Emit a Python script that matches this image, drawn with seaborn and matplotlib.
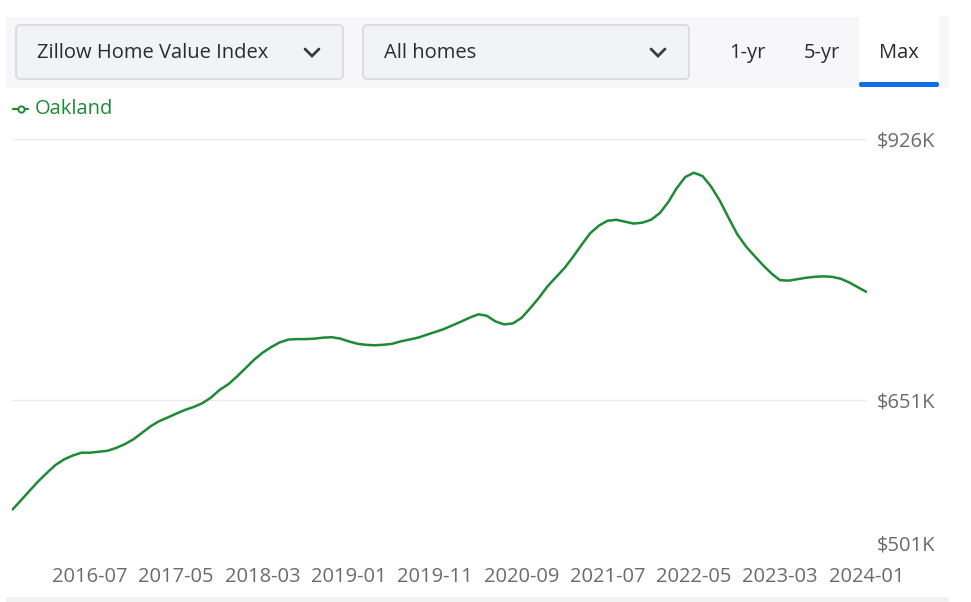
"""
plot.py
Zillow-style home value chart for Oakland, redrawn with seaborn.
"""

import pandas as pd
import seaborn as sns
import matplotlib.pyplot as plt
from matplotlib.patches import FancyBboxPatch, Rectangle

# Monthly ZHVI values (in $K), 2015-10 .. 2024-01
START_MONTH = "2015-10-01"
zhvi_k = [
    536, 546, 556, 566, 575, 583, 589, 593, 596,
    596, 597, 598, 601, 605, 610, 617, 624, 629, 633,
    637, 641, 644, 648, 654, 662, 668, 676, 685, 694,
    701, 707, 712, 715, 715.5, 715.5, 716, 717, 717.5, 716,
    713, 710.5, 709.5, 709, 709.5, 710.5, 713, 715, 717, 720,
    723, 726, 730, 734, 738, 741.6, 740, 734, 731, 732,
    738, 748, 759, 771, 781, 791, 802, 815, 827, 835,
    840, 841, 839, 837, 838, 841, 848, 860, 874, 886,
    890.5, 887, 876, 861, 843, 826, 813, 803, 793, 784,
    777.5, 777, 778.5, 780, 781, 781.5, 781, 779, 775, 770,
    765,
]
y_ticks = [501, 651, 926]
y_labels = ["$501K", "$651K", "$926K"]
x_tick_labels = ["2016-07", "2017-05", "2018-03", "2019-01", "2019-11",
                 "2020-09", "2021-07", "2022-05", "2023-03", "2024-01"]
region = "Oakland"
dropdowns = ["Zillow Home Value Index", "All homes"]
tabs = ["1-yr", "5-yr", "Max"]

GREEN = "#1f8a36"
TICK_GREY = "#6a6a70"
DARK = "#2a2a33"
FS = 14.5

df = pd.DataFrame({
    "date": pd.date_range(START_MONTH, periods=len(zhvi_k), freq="MS"),
    "value": zhvi_k,
})

sns.set_style("white")
plt.rcParams["font.family"] = ["Open Sans", "DejaVu Sans"]

W, H = 971, 602
fig = plt.figure(figsize=(W / 100, H / 100), dpi=100)

# main plot area (pixel box 12..867 x 139..543)
ax = fig.add_axes([12.3 / W, (H - 543) / H, 854.4 / W, 404 / H])
sns.lineplot(data=df, x="date", y="value", ax=ax, color=GREEN, linewidth=1.8)

ax.set_xlim(df["date"].iloc[0], df["date"].iloc[-1])
ax.set_ylim(501, 926)
ax.set_yticks(y_ticks, y_labels)
ax.set_xticks(pd.to_datetime(x_tick_labels), x_tick_labels)
ax.yaxis.tick_right()
ax.grid(axis="y", color="#ececef", linewidth=1)
ax.grid(axis="x", visible=False)
ax.tick_params(axis="y", length=0, pad=7.5, labelsize=FS, labelcolor=TICK_GREY)
ax.tick_params(axis="x", length=0, pad=17.5, labelsize=FS, labelcolor=TICK_GREY)
ax.set_xlabel("")
ax.set_ylabel("")
for s in ax.spines.values():
    s.set_visible(False)

# overlay in pixel coords for the header, legend and footer strip
ov = fig.add_axes([0, 0, 1, 1], zorder=-1)
ov.set_xlim(0, W)
ov.set_ylim(H, 0)
ov.axis("off")

ov.add_patch(Rectangle((6, 17), 943, 71, color="#f7f7f9", lw=0))
for x0, x1, label in [(16, 343, dropdowns[0]), (363, 689, dropdowns[1])]:
    ov.add_patch(FancyBboxPatch((x0, 25), x1 - x0, 54,
                                boxstyle="round,pad=0,rounding_size=4",
                                fc="#f2f3f6", ec="#d4d4d9", lw=1))
    ov.text(x0 + 21, 53, label, fontsize=FS, color=DARK, va="center")
    cx = x1 - 31
    ov.plot([cx - 7, cx, cx + 7], [49, 56, 49], color="#3b3b44", lw=2,
            solid_capstyle="round", solid_joinstyle="miter")

ov.add_patch(Rectangle((859, 17), 80, 71, color="white", lw=0))
ov.add_patch(FancyBboxPatch((859, 82), 80, 5,
                            boxstyle="round,pad=0,rounding_size=2",
                            fc="#0d6fe8", ec="none"))
for cx, label in zip([747, 822, 899], tabs):
    ov.text(cx, 53, label, fontsize=FS, color=DARK, ha="center", va="center")

# legend entry
ov.plot([13, 28], [109, 109], color=GREEN, lw=1.6)
ov.plot([20.5], [109], marker="o", ms=4.5, mfc="white", mec=GREEN, mew=1.4)
ov.text(35, 109, region, fontsize=FS, color=GREEN, va="center")

# footer strip
ov.add_patch(Rectangle((6, 597), 943, 5, color="#f2f2f4", lw=0))

fig.savefig("out.png", dpi=100)
plt.close(fig)
